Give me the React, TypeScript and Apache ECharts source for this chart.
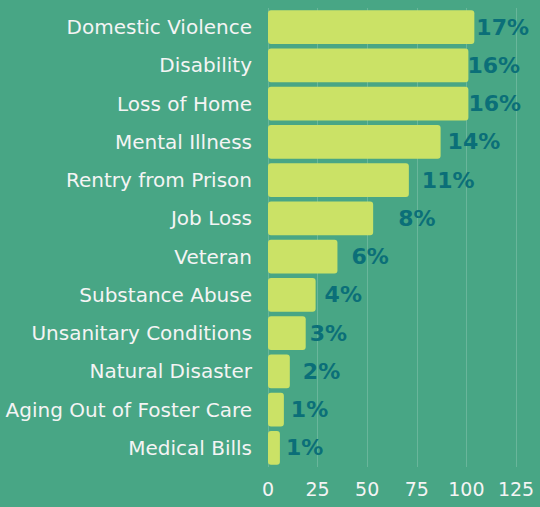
import React, { useEffect, useRef } from "react";
import * as echarts from "echarts";

const categories = [
  "Domestic Violence",
  "Disability",
  "Loss of Home",
  "Mental Illness",
  "Rentry from Prison",
  "Job Loss",
  "Veteran",
  "Substance Abuse",
  "Unsanitary Conditions",
  "Natural Disaster",
  "Aging Out of Foster Care",
  "Medical Bills",
];
const values = [104, 101, 101, 87, 71, 53, 35, 24, 19, 11, 8, 6];
const percentLabels = ["17%", "16%", "16%", "14%", "11%", "8%", "6%", "4%", "3%", "2%", "1%", "1%"];
const labelGaps = [2, -1, 0, 7, 13, 25, 14, 9, 4, 13, 7, 6];

const BG = "#48a685";
const BAR = "#cbe266";
const LABEL = "#0b6f78";
const FONT = "'DejaVu Sans', 'Open Sans', sans-serif";

export default function App() {
  const ref = useRef<HTMLDivElement>(null);
  useEffect(() => {
    if (!ref.current) return;
    const chart = echarts.init(ref.current, undefined, { renderer: "svg" });
    chart.setOption({
      animation: false,
      backgroundColor: BG,
      grid: { left: 268, right: 24, top: 8, bottom: 40, containLabel: false },
      xAxis: {
        type: "value",
        min: 0,
        max: 125,
        interval: 25,
        axisLine: { show: false },
        axisTick: { show: false },
        splitLine: { show: true, lineStyle: { color: "rgba(255,255,255,0.18)", width: 1 } },
        axisLabel: { color: "#f4f4f4", fontSize: 19, fontFamily: FONT, margin: 12 },
      },
      yAxis: {
        type: "category",
        data: categories,
        inverse: true,
        axisLine: { show: false },
        axisTick: { show: false },
        axisLabel: { color: "#f4f4f4", fontSize: 20, fontFamily: FONT, margin: 16 },
      },
      series: [
        {
          type: "bar",
          barCategoryGap: "12%",
          itemStyle: { color: BAR, borderRadius: 3 },
          data: values.map((v, i) => ({
            value: v,
            label: {
              show: true,
              position: "right",
              distance: labelGaps[i],
              formatter: () => percentLabels[i],
              color: LABEL,
              fontSize: 22,
              fontWeight: "bold",
              fontFamily: FONT,
            },
          })),
        },
      ],
    });
    return () => chart.dispose();
  }, []);
  return <div ref={ref} style={{ width: 540, height: 507, position: "absolute", left: 0, top: 0 }} />;
}
